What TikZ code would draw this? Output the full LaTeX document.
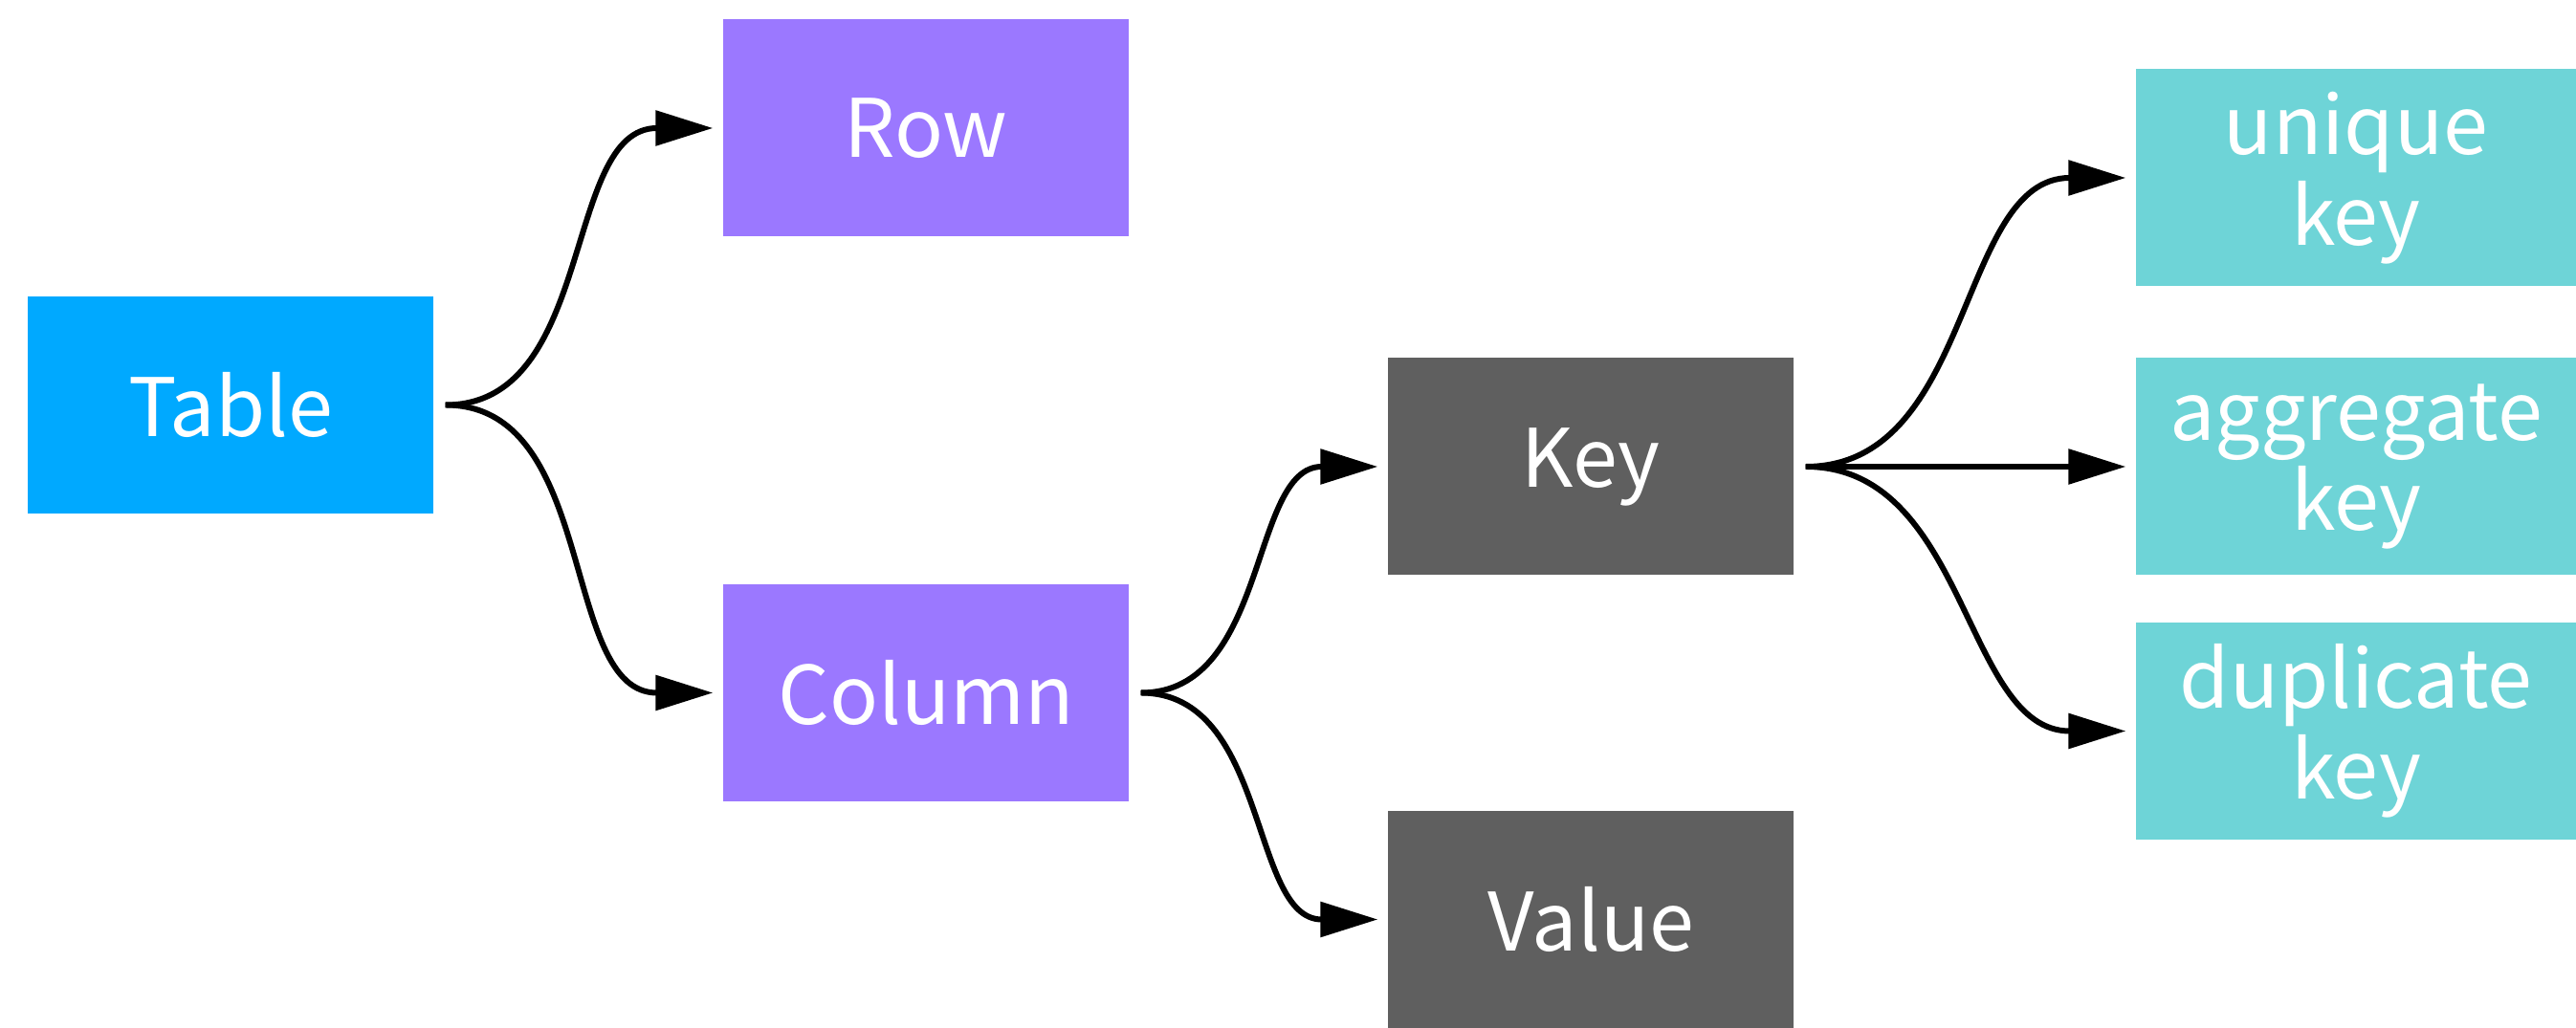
\documentclass[tikz,border=0pt]{standalone}
\usepackage{fontspec}
\setmainfont{Noto Sans CJK SC}
\usetikzlibrary{arrows.meta, positioning, calc}

\begin{document}
\begin{tikzpicture}[
    every node/.style={font=\fontsize{24}{27}\selectfont, text=white},
    box/.style={rectangle, minimum width=4.24cm, minimum height=2.27cm,
                inner sep=0pt, align=center},
    link/.style={-{Triangle[length=0.6cm, width=0.36cm]}, line width=1.7pt},
]

\definecolor{tablecolor}{HTML}{00A9FF}   % the root
\definecolor{partcolor}{HTML}{9B78FF}    % row / column
\definecolor{kvcolor}{HTML}{5F5F5F}      % key / value
\definecolor{modelcolor}{HTML}{6ED4D7}   % the three key models

% ================================================================
% Picture is 26.93 x 10.75, top edge y = 0.
%   x =  2.41   Table
%   x =  9.68   Row, Column
%   x = 16.63   Key, Value
%   x = 24.63   unique / aggregate / duplicate key (cut by right edge)
% ================================================================
\useasboundingbox (0,0) rectangle (26.93,-10.75);

\node[box, fill=tablecolor] (table)  at ( 2.41,-4.235) {Table};
\node[box, fill=partcolor]  (row)    at ( 9.68,-1.34)  {Row};
\node[box, fill=partcolor]  (column) at ( 9.68,-7.245) {Column};
\node[box, fill=kvcolor]    (key)    at (16.63,-4.88)  {Key};
\node[box, fill=kvcolor]    (value)  at (16.63,-9.615) {Value};

\node[box, fill=modelcolor, minimum width=4.6cm] (unique)    at (24.63,-1.86) {unique\\key};
\node[box, fill=modelcolor, minimum width=4.6cm] (aggregate) at (24.63,-4.88) {aggregate\\key};
\node[box, fill=modelcolor, minimum width=4.6cm] (duplicate) at (24.63,-7.645) {duplicate\\key};

% ---------------------------------------------------------------- links
\foreach \a/\b in {table/row, table/column, column/key, column/value,
                   key/unique, key/duplicate} {
  \draw[link] ([xshift=1.2mm]\a.east) to[out=0, in=180] ([xshift=-1mm]\b.west);
}
\draw[link] ([xshift=1.2mm]key.east) -- ([xshift=-1mm]aggregate.west);

\end{tikzpicture}
\end{document}
